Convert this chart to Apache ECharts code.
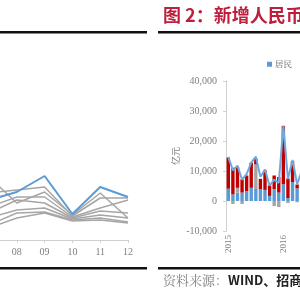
<!DOCTYPE html>
<html><head><meta charset="utf-8">
<script src="https://cdn.jsdelivr.net/npm/echarts@6/dist/echarts.min.js"></script>
<style>html,body{margin:0;padding:0;background:#fff}#c{width:300px;height:300px}</style>
</head><body><div id="c"></div>
<script>
// ---- left chart (monthly lines, partially visible) ----
const monthCats = ['07','08','09','10','11','12'];
const blueLine = [40, 48, 64, 26, 53, 43];
const gray1 = [63, 37, 48, 25, 47, 22];
const gray2 = [47, 50, 53, 24, 42, 42];
const gray3 = [33, 43, 43, 23, 32, 40];
const gray4 = [27, 40, 37, 22, 29, 27];
const gray5 = [22, 30, 32, 21, 25, 22];
const gray6 = [15, 27, 28, 20, 22, 18];
const gray7 = [12, 22, 27, 19, 20, 17];
const grayLines = [gray1, gray2, gray3, gray4, gray5, gray6, gray7];

// ---- right chart (new RMB loans, 亿元) ----
const loanCats = ['2015-01','2015-02','2015-03','2015-04','2015-05','2015-06','2015-07','2015-08','2015-09','2015-10','2015-11','2015-12','2016-01','2016-02','2016-03','2016-04','2016-05'];
const household = [4100, 2200, 2800, 2800, 3300, 4400, 4000, 3900, 3700, 1700, 4000, 2800, 5600, 1000, 6300, 4200, 4500];
const nonbank   = [0, -1000, 1600, -1000, 0, 0, 8200, 0, 0, 0, -1700, -2000, 0, -700, 0, -400, 0];
const corporate = [10400, 8900, 7000, 4400, 5200, 8400, 1900, 3500, 6500, 3500, 4500, 5200, 19400, 6500, 7000, 1300, 5300];
const totalLoans = [14700, 10200, 11800, 7100, 9000, 12800, 14800, 8100, 10500, 5100, 7100, 6000, 25100, 7300, 13700, 5600, 9900];
const yTickValues = [-10000, 0, 10000, 20000, 30000, 40000];

const serif = 'Liberation Serif';
const cjk = 'Noto Sans CJK SC';
const chart = echarts.init(document.getElementById('c'), null, {renderer: 'canvas'});

const leftSeries = [];
grayLines.forEach((d, i) => leftSeries.push({
  name: 'G' + (i + 1), type: 'line', xAxisIndex: 0, yAxisIndex: 0, data: d,
  symbol: 'none', lineStyle: {color: '#A6A6A6', width: 1.5}, z: 2, silent: true
}));
leftSeries.push({
  name: 'B', type: 'line', xAxisIndex: 0, yAxisIndex: 0, data: blueLine,
  symbol: 'none', lineStyle: {color: '#5B9BD5', width: 2}, z: 3, silent: true
});

chart.setOption({
  animation: false,
  backgroundColor: '#fff',
  grid: [
    {left: -11, right: 172, top: 40, bottom: 60, outerBoundsMode: 'none', containLabel: false},
    {left: 226, right: -4, top: 81, bottom: 69, outerBoundsMode: 'none', containLabel: false}
  ],
  legend: {
    data: ['居民'], left: 262, top: 55, itemWidth: 5, itemHeight: 5, itemGap: 4,
    icon: 'rect', textStyle: {fontFamily: 'Noto Serif CJK SC, ' + cjk, fontSize: 8.5, color: '#595959', padding: [0, 0, 0, -2]}
  },
  xAxis: [
    {
      gridIndex: 0, type: 'category', data: monthCats, boundaryGap: false,
      axisLine: {lineStyle: {color: '#D0D0D0'}},
      axisTick: {show: true, length: 3, lineStyle: {color: '#D0D0D0'}},
      axisLabel: {fontFamily: serif, fontSize: 10, color: '#7F7F7F', margin: 7}
    },
    {
      gridIndex: 1, type: 'category', data: loanCats, boundaryGap: true,
      axisLine: {show: false, onZero: false}, axisTick: {show: false},
      axisLabel: {
        rotate: 90, fontFamily: serif, fontSize: 9, color: '#7F7F7F', margin: 4,
        interval: (i) => i % 12 === 0, formatter: (v) => v.slice(0, 4)
      }
    }
  ],
  yAxis: [
    {gridIndex: 0, type: 'value', min: 0, max: 200, show: false},
    {
      gridIndex: 1, type: 'value', min: yTickValues[0], max: yTickValues[yTickValues.length - 1], interval: 10000,
      name: '亿元', nameLocation: 'middle', nameGap: 46, nameRotate: 90,
      nameTextStyle: {fontFamily: cjk, fontSize: 9, color: '#7F7F7F'},
      axisLine: {show: true, lineStyle: {color: '#D0D0D0'}},
      axisTick: {show: true, length: 3, lineStyle: {color: '#D0D0D0'}},
      splitLine: {show: false},
      axisLabel: {fontFamily: serif, fontSize: 10, color: '#7F7F7F', margin: 9,
        formatter: (v) => v.toLocaleString('en-US')}
    }
  ],
  series: leftSeries.concat([
    {name: '居民', type: 'bar', xAxisIndex: 1, yAxisIndex: 1, stack: 'loan', data: household,
      itemStyle: {color: '#5B9BD5'}, barWidth: 3.4},
    {name: '非银行业金融机构', type: 'bar', xAxisIndex: 1, yAxisIndex: 1, stack: 'loan', data: nonbank,
      itemStyle: {color: '#A5A5A5'}, barWidth: 3.4},
    {name: '非金融企业', type: 'bar', xAxisIndex: 1, yAxisIndex: 1, stack: 'loan', data: corporate,
      itemStyle: {color: '#C00000'}, barWidth: 3.4},
    {name: '新增人民币贷款', type: 'line', xAxisIndex: 1, yAxisIndex: 1, data: totalLoans,
      symbol: 'none', lineStyle: {color: '#6FA8DC', width: 2}, z: 5}
  ]),
  graphic: [
    {type: 'rect', shape: {x: 0, y: 31, width: 147, height: 2.5}, style: {fill: '#111'}},
    {type: 'rect', shape: {x: 0, y: 267, width: 147, height: 2.5}, style: {fill: '#111'}},
    {type: 'rect', shape: {x: 158, y: 31, width: 142, height: 2.5}, style: {fill: '#111'}},
    {type: 'rect', shape: {x: 158, y: 267, width: 142, height: 2.5}, style: {fill: '#111'}},
    {type: 'text', left: 163, top: 6, style: {
      text: '图 2：新增人民币贷款结构', fill: '#BE1E3C',
      font: 'bold 18px "Noto Sans CJK SC"'}},
    {type: 'text', left: 163, top: 274, style: {
      text: '{a|资料来源：}{b|WIND、招商证券}',
      rich: {
        a: {fontFamily: 'Noto Serif CJK SC, Noto Sans CJK SC', fontSize: 13, fill: '#7F7F7F', color: '#7F7F7F'},
        b: {fontFamily: 'Noto Sans CJK SC', fontSize: 13, fontWeight: 'bold', fill: '#222', color: '#222'}
      }}}
  ]
});
</script></body></html>
